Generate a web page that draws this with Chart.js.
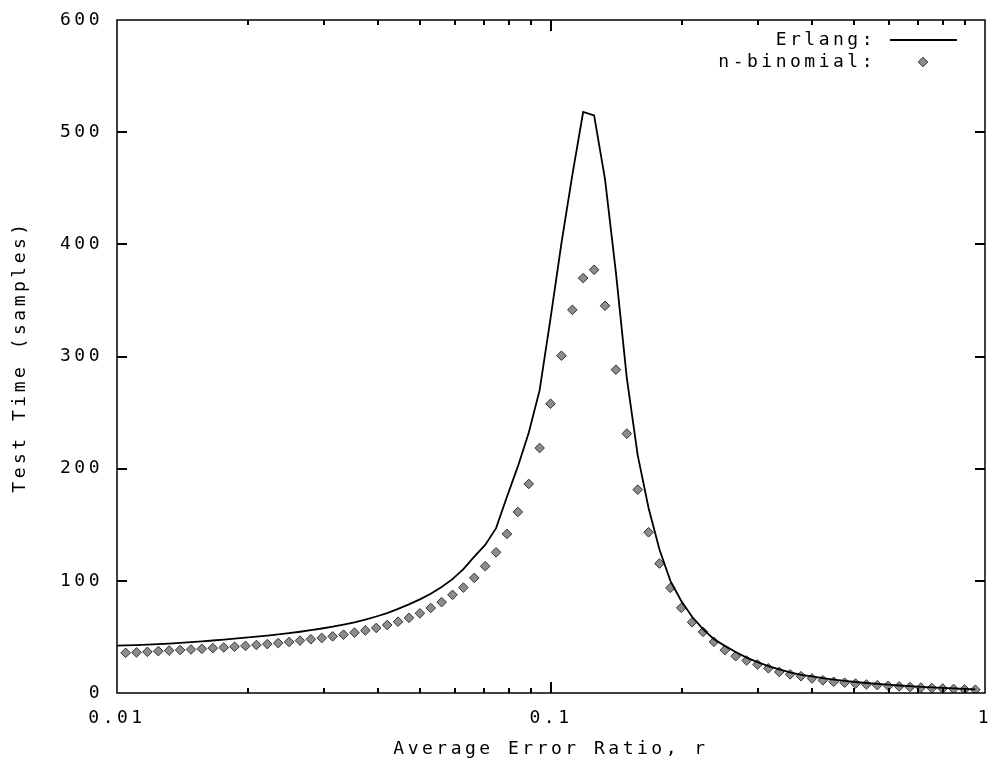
<!DOCTYPE html>
<html>
<head>
<meta charset="utf-8">
<script src="https://cdn.jsdelivr.net/npm/chart.js@4.4.1/dist/chart.umd.min.js"></script>
<style>
  html, body { margin: 0; padding: 0; background: #fff; }
  canvas { display: block; }
</style>
</head>
<body>
<canvas id="testTimeChart" width="995" height="765"></canvas>
<script>
// Average error ratio r (log spaced)
const rValues = [
  0.01047, 0.01109, 0.01175, 0.01245, 0.01319, 0.01398, 0.01481, 0.01569, 0.01663, 0.01762,
  0.01866, 0.01977, 0.02095, 0.02220, 0.02352, 0.02492, 0.02640, 0.02797, 0.02964, 0.03140,
  0.03327, 0.03525, 0.03735, 0.03957, 0.04193, 0.04442, 0.04707, 0.04987, 0.05283, 0.05598,
  0.05929, 0.06283, 0.06656, 0.07053, 0.07472, 0.07917, 0.08388, 0.08886, 0.09415, 0.09975,
  0.1057, 0.1120, 0.1186, 0.1257, 0.1332, 0.1411, 0.1495, 0.1584, 0.1678, 0.1778,
  0.1884, 0.1996, 0.2114, 0.2240, 0.2374, 0.2515, 0.2664, 0.2823, 0.2991, 0.3169,
  0.3357, 0.3556, 0.3768, 0.3993, 0.4231, 0.4482, 0.4749, 0.5032, 0.5331, 0.5648,
  0.5984, 0.6340, 0.6717, 0.7117, 0.7541, 0.7989, 0.8465, 0.8968, 0.9502
];

// n-binomial test time (samples)
const nBinomialTime = [
  35.8, 36.2, 36.7, 37.3, 37.8, 38.3, 38.8, 39.4, 40.0, 40.6,
  41.3, 42.0, 42.8, 43.6, 44.5, 45.5, 46.7, 47.9, 49.1, 50.5,
  52.0, 53.8, 55.8, 58.0, 60.6, 63.6, 67.0, 71.0, 75.8, 81.0,
  87.5, 94.0, 102.6, 113.0, 125.4, 141.8, 161.4, 186.4, 218.4, 257.9,
  300.7, 341.6, 369.9, 377.3, 345.2, 288.2, 231.2, 181.3, 143.3, 115.4,
  93.7, 75.9, 63.1, 54.5, 45.6, 38.2, 32.8, 29.0, 25.4, 22.0,
  18.8, 16.6, 15.0, 13.0, 11.3, 10.0, 9.2, 8.4, 7.6, 7.0,
  6.4, 5.9, 5.3, 4.8, 4.4, 4.0, 3.6, 3.2, 2.9
];

// Erlang curve starts at r = 0.01
const erlangR = [0.01].concat(rValues);
const erlangTime = [
  42.3,
  42.4, 42.7, 43.1, 43.6, 44.1, 44.7, 45.3, 46.0, 46.8, 47.6,
  48.4, 49.3, 50.2, 51.2, 52.3, 53.4, 54.6, 56.0, 57.5, 59.1,
  61.0, 63.0, 65.5, 68.2, 71.3, 75.0, 79.0, 83.5, 88.5, 94.5,
  101.5, 110.5, 121.5, 132.0, 147.0, 175.0, 202.0, 232.0, 270.0, 334.0,
  401.0, 462.0, 518.0, 515.0, 458.0, 375.0, 281.0, 212.0, 165.0, 128.0,
  100.0, 82.0, 68.0, 57.0, 48.0, 42.0, 36.5, 31.5, 27.5, 24.0,
  21.0, 18.3, 16.2, 14.8, 13.3, 12.0, 10.8, 9.8, 8.9, 8.1,
  7.4, 6.7, 6.1, 5.5, 5.0, 4.5, 4.1, 3.7, 3.3
];

const yTicks = [100, 200, 300, 400, 500];
const xMajorTicks = [0.1];
const xMinorTicks = [0.02, 0.03, 0.04, 0.05, 0.06, 0.07, 0.08, 0.09, 0.2, 0.3, 0.4, 0.5, 0.6, 0.7, 0.8, 0.9];

const gnuFont = { family: "'DejaVu Sans Mono', monospace", size: 18 };

// gnuplot style: wide spaced text
const spacingPlugin = {
  id: 'spacing',
  beforeDraw(chart) {
    chart.ctx.letterSpacing = '3.5px';
  }
};

function tickLine(ctx, x1, y1, x2, y2) {
  ctx.beginPath();
  ctx.moveTo(x1, y1);
  ctx.lineTo(x2, y2);
  ctx.stroke();
}

// frame + inward ticks on all four sides
const framePlugin = {
  id: 'frame',
  afterDatasetsDraw(chart) {
    const ctx = chart.ctx;
    const a = chart.chartArea;
    const xs = chart.scales.x;
    const ys = chart.scales.y;
    const L = Math.round(a.left), R = Math.round(a.right);
    const T = Math.round(a.top), B = Math.round(a.bottom);
    ctx.save();
    ctx.fillStyle = '#000';
    yTicks.forEach(function (v) {
      const py = Math.round(ys.getPixelForValue(v));
      ctx.fillRect(L, py - 1, 10, 2);
      ctx.fillRect(R - 10, py - 1, 10, 2);
    });
    xMajorTicks.concat(xMinorTicks).forEach(function (v) {
      const px = Math.round(xs.getPixelForValue(v));
      const len = xMajorTicks.indexOf(v) >= 0 ? 11 : 5;
      ctx.fillRect(px - 1, B - len, 2, len);
      ctx.fillRect(px - 1, T, 2, len);
    });
    ctx.strokeStyle = '#000';
    ctx.lineWidth = 1.5;
    ctx.strokeRect(a.left, a.top, a.right - a.left, a.bottom - a.top);
    ctx.restore();
  }
};

// key in the top right corner, text first then sample
const keyPlugin = {
  id: 'key',
  afterDraw(chart) {
    const ctx = chart.ctx;
    const a = chart.chartArea;
    ctx.save();
    ctx.font = "18px 'DejaVu Sans Mono', monospace";
    ctx.textAlign = 'right';
    ctx.textBaseline = 'middle';
    chart.data.datasets.forEach(function (ds, i) {
      const ky = a.top + 20 + i * 22;
      ctx.fillStyle = '#000';
      ctx.fillText(ds.label, a.right - 109, ky);
      ctx.strokeStyle = ds.borderColor;
      ctx.lineWidth = ds.borderWidth;
      if (ds.showLine) {
        tickLine(ctx, a.right - 95, ky, a.right - 28, ky);
      } else {
        ctx.fillStyle = ds.backgroundColor;
        Chart.helpers.drawPoint(ctx, { pointStyle: ds.pointStyle, radius: ds.pointRadius, rotation: 0, borderWidth: ds.borderWidth }, a.right - 62, ky);
      }
    });
    ctx.restore();
  }
};

// transparent tick marks: they only move the labels away from the frame
const hiddenTicks = (len) => ({ display: true, drawOnChartArea: false, drawTicks: true, tickLength: len, tickColor: 'rgba(0,0,0,0)' });

const ctx = document.getElementById('testTimeChart').getContext('2d');
new Chart(ctx, {
  type: 'scatter',
  data: {
    datasets: [{
      label: 'Erlang:',
      data: erlangR.map(function (r, i) { return { x: r, y: erlangTime[i] }; }),
      showLine: true,
      borderColor: '#000',
      borderWidth: 1.8,
      pointRadius: 0,
      tension: 0,
      order: 1
    }, {
      label: 'n-binomial:',
      data: rValues.map(function (r, i) { return { x: r, y: nBinomialTime[i] }; }),
      pointStyle: 'rectRot',
      pointRadius: 4.8,
      borderColor: '#333',
      backgroundColor: '#8c8c8c',
      borderWidth: 1,
      order: 2
    }]
  },
  options: {
    responsive: false,
    animation: false,
    devicePixelRatio: 1,
    layout: { padding: { top: 20, right: 10, left: 0, bottom: 0 } },
    plugins: {
      legend: { display: false },
      tooltip: { enabled: false }
    },
    scales: {
      x: {
        type: 'logarithmic',
        min: 0.01,
        max: 1,
        grid: hiddenTicks(11),
        border: { display: false },
        ticks: {
          autoSkip: false,
          maxRotation: 0,
          padding: 4,
          color: '#000',
          font: gnuFont,
          callback: function (value) {
            const e = Math.log10(value);
            if (Math.abs(e - Math.round(e)) < 1e-6) return String(Math.pow(10, Math.round(e)));
            return '';
          }
        },
        title: {
          display: true,
          text: 'Average Error Ratio, r',
          color: '#000',
          font: gnuFont,
          padding: { top: 0, bottom: 5 }
        },
        afterFit: function (scale) { scale.height = 72; }
      },
      y: {
        min: 0,
        max: 600,
        grid: hiddenTicks(12),
        border: { display: false },
        ticks: {
          stepSize: 100,
          padding: 2,
          color: '#000',
          font: gnuFont
        },
        title: {
          display: true,
          text: 'Test Time (samples)',
          color: '#000',
          font: gnuFont,
          padding: { top: 10, bottom: 0 }
        },
        afterFit: function (scale) { scale.width = 117; }
      }
    }
  },
  plugins: [spacingPlugin, framePlugin, keyPlugin]
});
</script>
</body>
</html>
